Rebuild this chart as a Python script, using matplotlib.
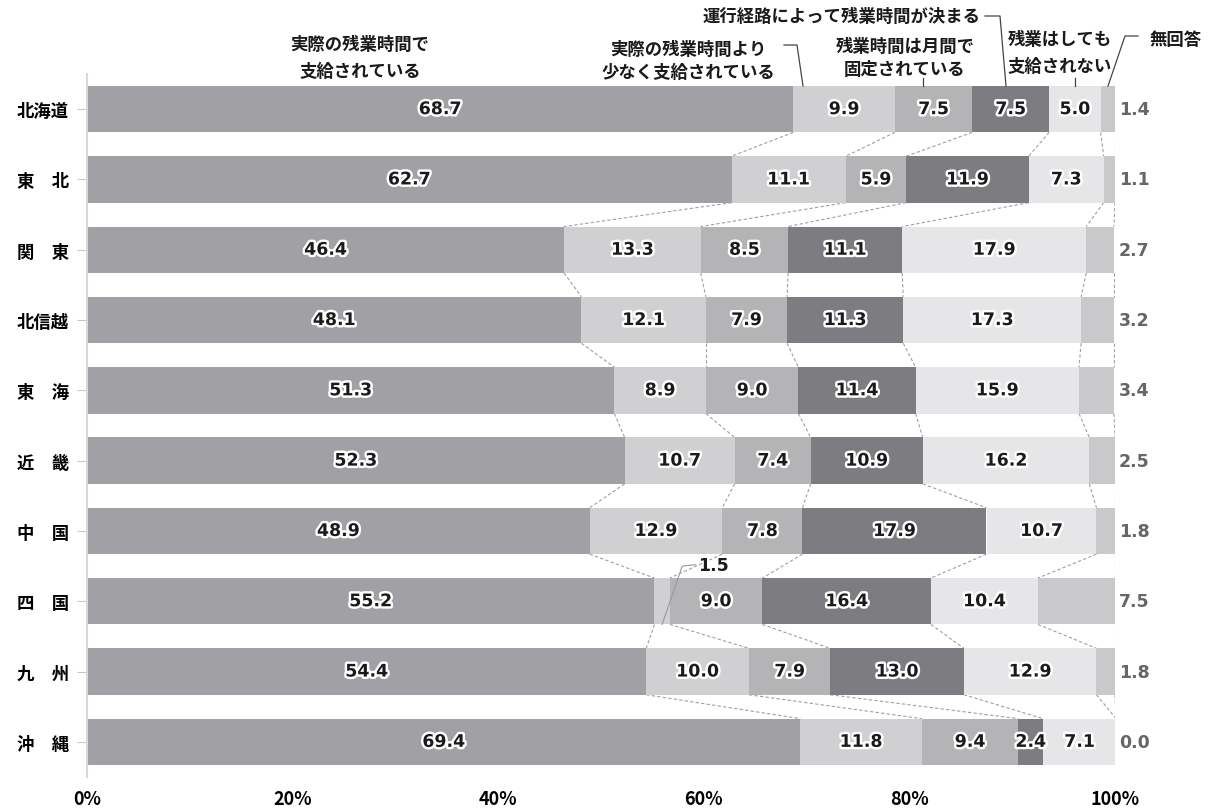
import numpy as np
import matplotlib.pyplot as plt
import matplotlib.patheffects as pe
from matplotlib.lines import Line2D

plt.rcParams['font.family'] = ['Noto Sans CJK JP', 'DejaVu Sans']

# 地域別・残業代の支給方法（%）
regions = ['北海道', '東　北', '関　東', '北信越', '東　海', '近　畿', '中　国', '四　国', '九　州', '沖　縄']
actual = [68.7, 62.7, 46.4, 48.1, 51.3, 52.3, 48.9, 55.2, 54.4, 69.4]
less_paid = [9.9, 11.1, 13.3, 12.1, 8.9, 10.7, 12.9, 1.5, 10.0, 11.8]
fixed_month = [7.5, 5.9, 8.5, 7.9, 9.0, 7.4, 7.8, 9.0, 7.9, 9.4]
by_route = [7.5, 11.9, 11.1, 11.3, 11.4, 10.9, 17.9, 16.4, 13.0, 2.4]
not_paid = [5.0, 7.3, 17.9, 17.3, 15.9, 16.2, 10.7, 10.4, 12.9, 7.1]
no_answer = [1.4, 1.1, 2.7, 3.2, 3.4, 2.5, 1.8, 7.5, 1.8, 0.0]
x_ticks = [0, 20, 40, 60, 80, 100]

series = [actual, less_paid, fixed_month, by_route, not_paid, no_answer]
colors = ['#a1a1a5', '#d0d0d2', '#b4b4b7', '#7d7d81', '#e6e6e8', '#c9c9cb']

W, H = 1215, 812
fig = plt.figure(figsize=(W / 100, H / 100), dpi=100)
ax = fig.add_axes([87 / W, 1 - 778 / H, (1115 - 87) / W, (778 - 75) / H])


def px(x, y):
    return x / W, 1 - y / H


data = np.array(series)
cum = np.vstack([np.zeros(len(regions)), np.cumsum(data, axis=0)])
ypos = np.arange(len(regions))
bh = 0.66
glow = [pe.withStroke(linewidth=3.5, foreground='white')]
num_font = dict(family='DejaVu Sans', fontsize=12.5, fontweight='bold')

for k, vals in enumerate(series):
    ax.barh(ypos, vals, left=cum[k], height=bh, color=colors[k], edgecolor='none', zorder=2)
    for i, v in enumerate(vals):
        if k == len(series) - 1:
            ax.text(100.4, i, f'{v:.1f}', ha='left', va='center', color='#666666', **num_font)
        elif v >= 2:
            ax.text(cum[k][i] + v / 2, i, f'{v:.1f}', ha='center', va='center',
                    color='#1a1a1a', path_effects=glow, zorder=4, **num_font)

# 系列線（各区分の境界を隣の棒とつなぐ）
for i in range(len(regions) - 1):
    for k in range(1, len(series) + 1):
        ax.plot([cum[k][i], cum[k][i + 1]], [i + bh / 2, i + 1 - bh / 2],
                ls=(0, (3, 2)), color='#a0a0a0', lw=0.8, zorder=1)

# 四国の 1.5 は棒の外に表示
i4 = 7
x15 = cum[1][i4] + less_paid[i4] / 2
ax.plot([x15, 57.9, 59.2], [i4 + bh / 2, i4 - 0.5, i4 - 0.52], color='#999999', lw=0.8,
        clip_on=False, zorder=3)
ax.text(59.4, i4 - 0.52, f'{less_paid[i4]:.1f}', ha='left', va='center',
        color='#1a1a1a', **num_font)

ax.set_xlim(0, 100)
ax.set_ylim(len(regions) - 0.5, -0.5)
ax.set_yticks(ypos)
ax.set_yticklabels(regions, fontsize=12.5, fontweight='bold')
ax.tick_params(axis='y', length=7, color='#c8c8c8', pad=6)
ax.set_xticks(x_ticks)
ax.set_xticklabels([f'{t}%' for t in x_ticks], fontsize=13, fontweight='bold')
ax.tick_params(axis='x', length=0, pad=9)
for s in ['top', 'right', 'bottom']:
    ax.spines[s].set_visible(False)
ax.spines['left'].set_color('#d8d8d8')
ax.spines['left'].set_linewidth(1.5)

# 凡例の見出しと引き出し線
hdr = dict(ha='center', va='center', fontsize=12.5, fontweight='bold', color='#1a1a1a')
fig.text(*px(360, 45), '実際の残業時間で', **hdr)
fig.text(*px(360, 72), '支給されている', **hdr)
fig.text(*px(688, 50), '実際の残業時間より', **hdr)
fig.text(*px(688, 73), '少なく支給されている', **hdr)
fig.text(*px(905, 47), '残業時間は月間で', **hdr)
fig.text(*px(905, 70), '固定されている', **hdr)
fig.text(*px(842, 17), '運行経路によって残業時間が決まる', **hdr)
fig.text(*px(1060, 40), '残業はしても', **hdr)
fig.text(*px(1060, 67), '支給されない', **hdr)
fig.text(*px(1176, 40), '無回答', **hdr)

leaders = [
    [(784, 46), (797, 46), (803, 87)],
    [(923, 79), (923, 87)],
    [(985, 17), (1000, 17), (1006, 87)],
    [(1075, 79), (1075, 87)],
    [(1138, 37), (1125, 37), (1108, 87)],
]
for pts in leaders:
    xs, ys = zip(*[px(x, y) for x, y in pts])
    fig.add_artist(Line2D(xs, ys, color='#444444', lw=0.9))

fig.savefig('out.png', dpi=100)
